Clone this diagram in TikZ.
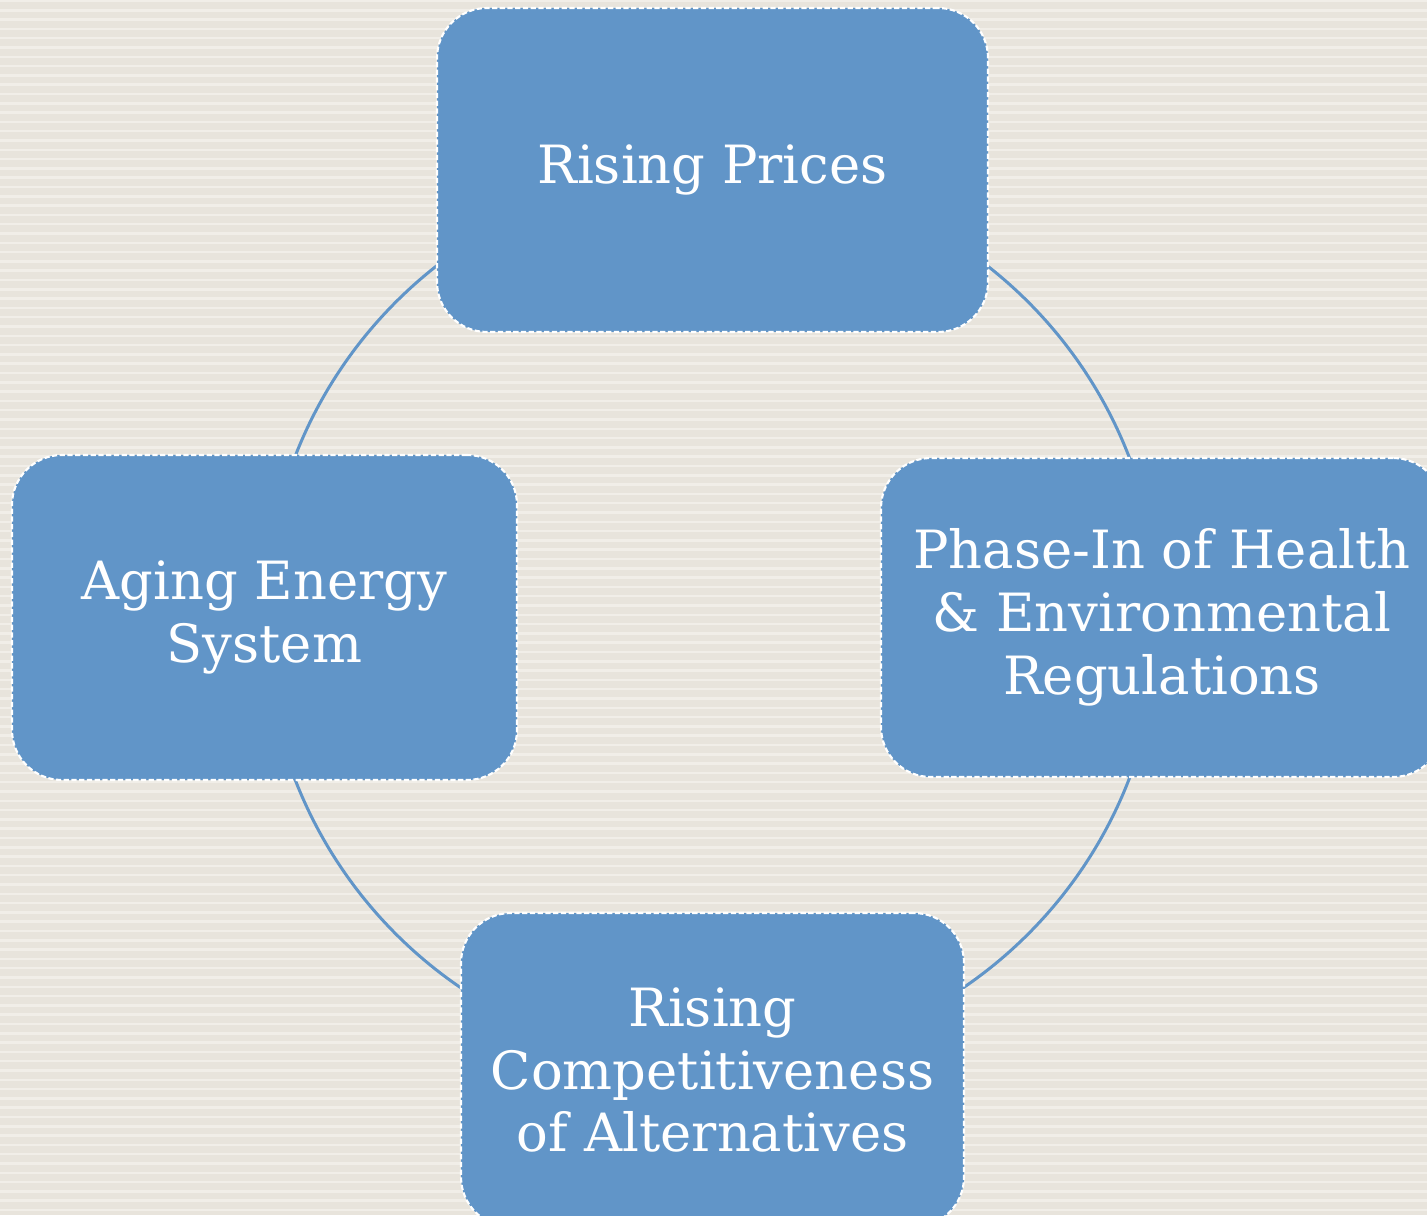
\documentclass[tikz,border=0pt]{standalone}
\usepackage{fontspec}
\setmainfont{DejaVu Serif}
\definecolor{boxblue}{HTML}{6195C8}
\definecolor{paper}{HTML}{E8E4DC}
\definecolor{paperline}{HTML}{F1EEE8}
\usetikzlibrary{positioning}

\begin{document}
\begin{tikzpicture}[every node/.append style={shape=rectangle, rounded corners=0.5cm, align=center, fill=boxblue, draw=white, line width=0.6pt, dash pattern=on 1.5pt off 0.7pt, text=white, font=\fontsize{15}{17.9}\selectfont}]
	\useasboundingbox (0,0) rectangle (14.27,12.15);
	\clip (0,0) rectangle (14.27,12.15);
	% striped paper
	\fill[paper] (0,0) rectangle (14.27,12.15);
	\foreach \y in {0.05,0.143,...,12.15}
		\draw[paperline, line width=0.025cm] (0,\y) -- (14.27,\y);
	% the cycle
	\coordinate (cyc) at (7.12,5.97);
	\draw[boxblue, line width=0.03cm] (cyc) circle (4.47);
	\node[minimum width=5.51cm, minimum height=3.24cm] at (7.125, 10.45) (prices) {Rising Prices};
	\node[minimum width=5.62cm, minimum height=3.19cm] at (11.62, 5.975) (rules) {Phase-In of Health\\\& Environmental\\Regulations};
	\node[minimum width=5.03cm, minimum height=3.14cm] at (7.125, 1.45) (altern) {Rising\\Competitiveness\\of Alternatives};
	\node[minimum width=5.05cm, minimum height=3.25cm] at (2.645, 5.975) (aging) {Aging Energy\\System};
\end{tikzpicture}
\end{document}
